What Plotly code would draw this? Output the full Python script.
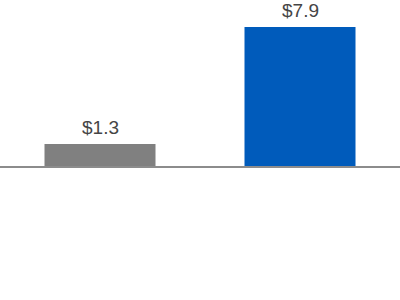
import plotly.graph_objects as go

categories = ["Prior", "Current"]
values = [1.3, 7.9]
colors = ["#808080", "#005BBB"]
labels = [f"${v:.1f}" for v in values]

fig = go.Figure()
fig.add_trace(go.Bar(x=categories, y=values, marker=dict(color=colors, line=dict(width=0)),
                     hoverinfo="skip"))

for c, v, t in zip(categories, values, labels):
    fig.add_annotation(x=c, y=v, text=t, showarrow=False, yanchor="bottom", yshift=4,
                       font=dict(family="Liberation Sans, Arial, sans-serif", size=19, color="#454545"))

fig.add_shape(type="line", xref="paper", yref="y", x0=0, x1=1, y0=0, y1=0,
              line=dict(color="#8c8c8c", width=2), layer="above")

fig.update_layout(
    width=400, height=300,
    margin=dict(l=0, r=0, t=0, b=0),
    paper_bgcolor="white", plot_bgcolor="white",
    bargap=0.445,
    showlegend=False,
    xaxis=dict(visible=False),
    yaxis=dict(visible=False, range=[-7.51, 9.42]),
)
fig.write_html("out.html")
